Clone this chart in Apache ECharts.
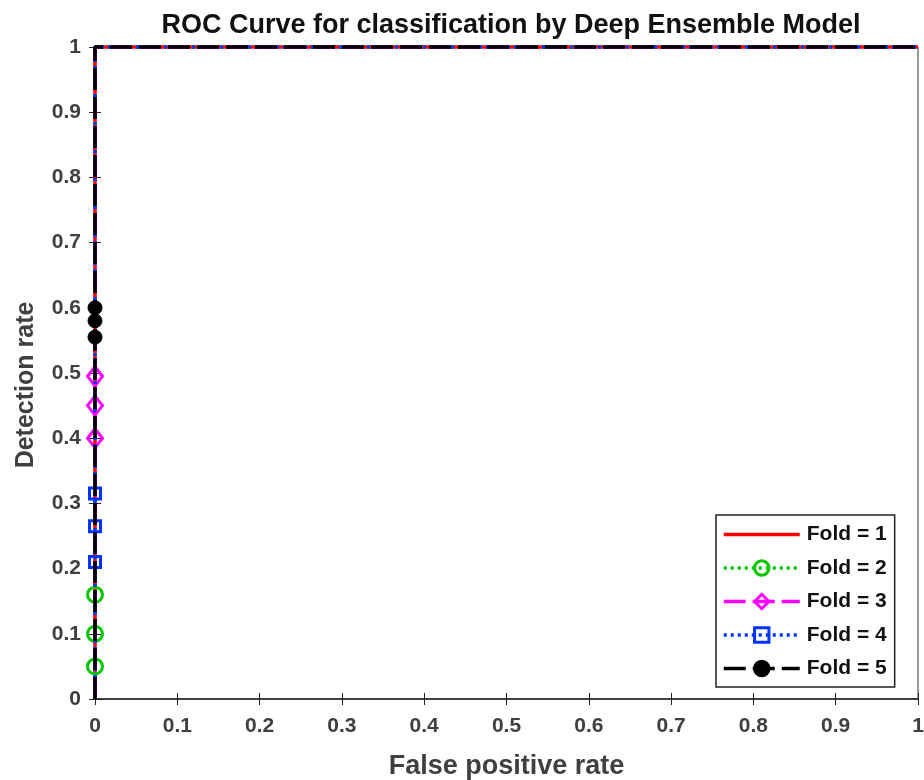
<!DOCTYPE html>
<html><head><meta charset="utf-8">
<script src="https://cdn.jsdelivr.net/npm/echarts@6/dist/echarts.min.js"></script>
<style>html,body{margin:0;padding:0;background:#fff}#c{width:924px;height:780px}</style>
</head><body><div id="c"></div>
<script>
const foldNames = ['Fold = 1','Fold = 2','Fold = 3','Fold = 4','Fold = 5'];
// ROC corner points shared by every fold (FPR, TPR)
const rocFpr = [0, 0, 1];
const rocTpr = [0, 1, 1];
// marked points along FPR = 0
const fold1Marks = [];
const fold2Marks = [0.05, 0.10, 0.16];
const fold3Marks = [0.40, 0.45, 0.495];
const fold4Marks = [0.21, 0.265, 0.315];
const fold5Marks = [0.555, 0.58, 0.60];
const tickLabels = ['0','0.1','0.2','0.3','0.4','0.5','0.6','0.7','0.8','0.9','1'];

const marks = [fold1Marks, fold2Marks, fold3Marks, fold4Marks, fold5Marks];
const colors = ['#ff0000','#00c800','#ff00ff','#0033ff','#000000'];
const lineTypes = ['solid',[3,4],[22,7],[3,4],[22,7]];
const symbols = ['circle','circle','diamond','rect','circle'];
const symSizes = [0,15,[15,19],11,14];

function buildData(m){
  const d = [{value:[rocFpr[0], rocTpr[0]], symbol:'none'}];
  m.forEach(y => d.push({value:[0, y]}));
  for (let i = 1; i < rocFpr.length; i++) d.push({value:[rocFpr[i], rocTpr[i]], symbol:'none'});
  return d;
}

const font = '"Liberation Sans", Arial, sans-serif';
const series = foldNames.map((n,i) => ({
  name: n, type: 'line', clip: false, z: 2 + i,
  data: buildData(marks[i]),
  showAllSymbol: true,
  symbol: symbols[i], symbolSize: symSizes[i],
  lineStyle: {color: colors[i], width: 3.5, type: lineTypes[i]},
  itemStyle: i === 4 ? {color: '#000', borderColor: '#000', borderWidth: 1}
           : i === 0 ? {color: 'rgba(0,0,0,0)', borderColor: 'rgba(0,0,0,0)', borderWidth: 0}
                     : {color: 'rgba(255,255,255,0)', borderColor: colors[i], borderWidth: 3},
  emphasis: {disabled: true},
  animation: false
}));

const axisLabelStyle = {color:'#404040', fontWeight:'bold', fontSize:21, fontFamily: font};
const chart = echarts.init(document.getElementById('c'));
chart.setOption({
  animation: false,
  title: {text:'ROC Curve for classification by Deep Ensemble Model', left: 506, textAlign:'center', top: 7,
    textStyle:{fontSize:27, fontWeight:'bold', color:'#111', fontFamily: font}},
  grid: {left: 95, right: 6, top: 47, bottom: 81, show: true, borderColor:'#333', borderWidth:1,
    outerBoundsMode: 'none', containLabel: false},
  legend: {
    orient:'vertical', left: 716, top: 515, data: foldNames,
    backgroundColor:'#fff', borderColor:'#222', borderWidth: 1.5, padding:[9,8,8,6],
    itemWidth: 76, itemHeight: 18, itemGap: 12.5,
    lineStyle:{width:3.5},
    itemStyle:{borderWidth:3},
    textStyle:{fontSize:21, fontWeight:'bold', color:'#111', fontFamily: font, padding:[0,0,0,2]}
  },
  xAxis: [{
    type:'value', min:0, max:1, interval:0.1,
    name:'False positive rate', nameLocation:'middle', nameGap: 54,
    nameTextStyle:{fontSize:27, fontWeight:'bold', color:'#404040', fontFamily: font},
    axisLine:{show:true, lineStyle:{color:'#222', width:1.5}},
    axisTick:{show:true, inside:true, length:6, lineStyle:{color:'#222'}},
    axisLabel:Object.assign({margin:17, formatter:(v,i)=>tickLabels[i]}, axisLabelStyle),
    splitLine:{show:false}
  },{
    type:'value', min:0, max:1, interval:0.1, position:'top',
    axisLine:{show:false}, axisTick:{show:true, inside:true, length:6, lineStyle:{color:'#222'}},
    axisLabel:{show:false}, splitLine:{show:false}
  }],
  yAxis: [{
    type:'value', min:0, max:1, interval:0.1,
    name:'Detection rate', nameLocation:'middle', nameGap: 56,
    nameTextStyle:{fontSize:25, fontWeight:'bold', color:'#404040', fontFamily: font, padding:[0,24,0,0]},
    axisLine:{show:true, lineStyle:{color:'#222', width:1.5}},
    axisTick:{show:true, inside:true, length:6, lineStyle:{color:'#222'}},
    axisLabel:Object.assign({margin:14, formatter:(v,i)=>tickLabels[i]}, axisLabelStyle),
    splitLine:{show:false}
  },{
    type:'value', min:0, max:1, interval:0.1, position:'right',
    axisLine:{show:false}, axisTick:{show:true, inside:true, length:6, lineStyle:{color:'#222'}},
    axisLabel:{show:false}, splitLine:{show:false}
  }],
  series: series
});
</script></body></html>
